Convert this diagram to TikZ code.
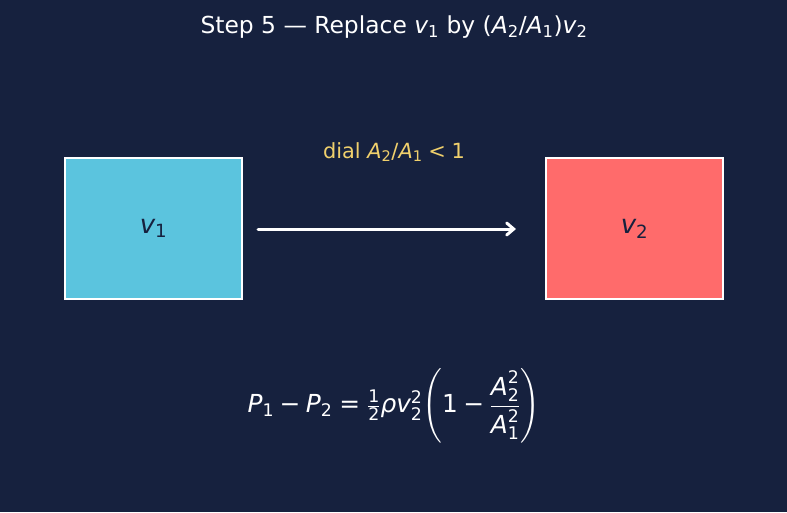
\documentclass[tikz,border=0pt]{standalone}
\usepackage{amsmath}
\usepackage{fontspec}
\setmainfont{DejaVu Sans}
\usetikzlibrary{arrows.meta}
\definecolor{bg}{HTML}{16213E}
\definecolor{cyanbox}{HTML}{5BC4DE}
\definecolor{redbox}{HTML}{FF6B6B}
\definecolor{dialc}{HTML}{F0D06C}
\newcommand{\iv}[1]{\textit{#1}}
\newcommand{\sbt}[1]{_{\text{#1}}}
\newcommand{\tm}[1]{\text{#1}}
\newcommand{\mminus}{\mathbin{\text{−}}}
\newcommand{\meq}{\mathrel{\text{=}}}
\newcommand{\mlt}{\mathrel{\text{<}}}
\begin{document}
\begin{tikzpicture}[x=1pt,y=-1pt,
  box/.style={draw=white,line width=1.5pt,minimum width=177pt,minimum height=141pt,inner sep=0pt,text=bg,font=\fontsize{26}{30}\selectfont},
  lbl/.style={inner sep=0pt}]
\fill[bg] (0,0) rectangle (787,512);
\useasboundingbox (0,0) rectangle (787,512);
\node[lbl,text=white,font=\fontsize{23.4}{27}\selectfont] (title) at (394,27) {Step 5 — Replace $\iv{v}\sbt{1}$ by $\tm{(}\iv{A}\sbt{2}\tm{/}\iv{A}\sbt{1}\tm{)}\iv{v}\sbt{2}$};
\node[box,fill=cyanbox] (b1) at (153.5,228.5) {\raisebox{-1.5pt}{$\iv{v}\sbt{1}$}};
\node[box,fill=redbox] (b2) at (634.5,228.5) {\raisebox{-1.5pt}{$\iv{v}\sbt{2}$}};
\coordinate (a1) at (258,229);
\coordinate (a2) at (516,229);
\draw[white,line width=3pt,line cap=round,-{Straight Barb[length=7pt,width=12pt,line cap=round]}] (a1) -- (a2);
\node[lbl,text=dialc,font=\fontsize{20.9}{24}\selectfont] (dial) at (394,152) {dial $\iv{A}\sbt{2}\tm{/}\iv{A}\sbt{1}\mlt\tm{1}$};
\node[lbl,text=white,font=\fontsize{24.8}{28}\selectfont] (eq) at (394,406)
 {$\iv{P}\sbt{1}\mminus\iv{P}\sbt{2}\meq\tfrac{\text{1}}{\text{2}}\iv{ρ}\iv{v}\sbt{2}^{\text{2}}\!\left(\text{1}\mminus\dfrac{\iv{A}\sbt{2}^{\text{2}}}{\iv{A}\sbt{1}^{\text{2}}}\right)$};
\end{tikzpicture}
\end{document}
